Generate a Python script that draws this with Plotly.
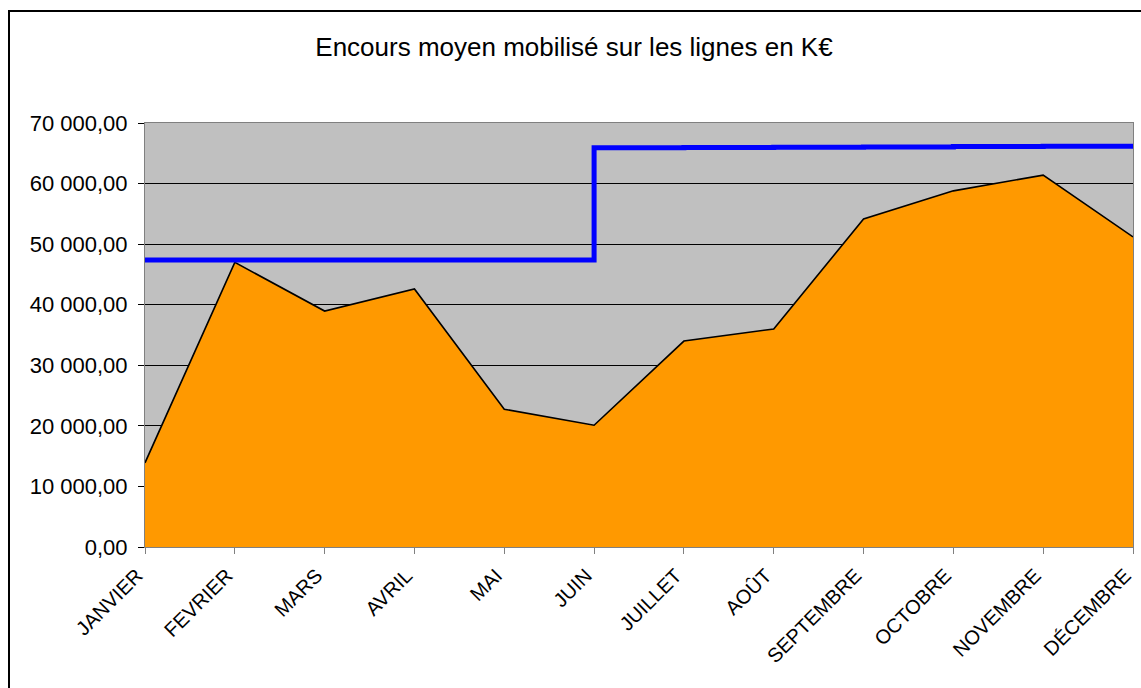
import plotly.graph_objects as go

months = ["JANVIER", "FEVRIER", "MARS", "AVRIL", "MAI", "JUIN", "JUILLET",
          "AOÛT", "SEPTEMBRE", "OCTOBRE", "NOVEMBRE", "DÉCEMBRE"]
encours = [13900, 47000, 38950, 42600, 22750, 20100, 34000, 36000, 54150,
           58800, 61400, 51200]
plafond = [47400, 47400, 47400, 47400, 47400, 47400, 65900, 65950, 66000,
           66050, 66100, 66150]
y_ticks = [0, 10000, 20000, 30000, 40000, 50000, 60000, 70000]

W, H = 1141, 688
L, T = 145, 123
R = W - 1133
B = H - 547
pw, ph = W - L - R, H - T - B

fig = go.Figure()
fig.add_trace(go.Scatter(
    x=months, y=encours, mode="lines", fill="tozeroy",
    fillcolor="#FF9900", line=dict(color="black", width=1.6),
    hoverinfo="x+y", showlegend=False))
fig.add_trace(go.Scatter(
    x=months, y=plafond, mode="lines", line_shape="vh",
    line=dict(color="#0000FF", width=5), showlegend=False))

fig.update_layout(
    width=W, height=H,
    margin=dict(l=L, r=R, t=T, b=B, autoexpand=False),
    paper_bgcolor="white", plot_bgcolor="#C0C0C0",
    separators=", ",
    font=dict(family="Liberation Sans, Arial", color="black"),
    title=dict(text="Encours moyen mobilisé sur les lignes en K€",
               x=574 / W, xanchor="center", xref="container",
               y=1 - 47 / H, yanchor="middle", yref="container",
               font=dict(size=26, color="black")),
    xaxis=dict(type="category", range=[0, len(months) - 1],
               tickangle=-45, ticks="outside", ticklen=6,
               tickcolor="#808080", tickfont=dict(size=20),
               ticklabelshift=-8, ticklabelstandoff=2,
               showgrid=False, showline=True, linecolor="#808080",
               linewidth=1, mirror=True, zeroline=False, automargin=False),
    yaxis=dict(range=[0, 70000], tickvals=y_ticks, tickformat=",.2f",
               ticks="outside", ticklen=6, tickcolor="black",
               tickfont=dict(size=22), ticklabelstandoff=6,
               showgrid=True, gridcolor="black",
               gridwidth=1, showline=True, linecolor="#808080",
               linewidth=1, mirror=True, zeroline=False, automargin=False),
    shapes=[dict(type="rect", xref="paper", yref="paper",
                 x0=(9 - L) / pw, x1=(W + 20 - L) / pw,
                 y0=-(B + 20) / ph, y1=1 + (T - 11) / ph,
                 line=dict(color="black", width=2), layer="above")],
)

fig.write_html("out.html",
               config={"displayModeBar": False},
               post_script="document.body.style.margin='0';"
                           "document.body.style.overflow='hidden';")
